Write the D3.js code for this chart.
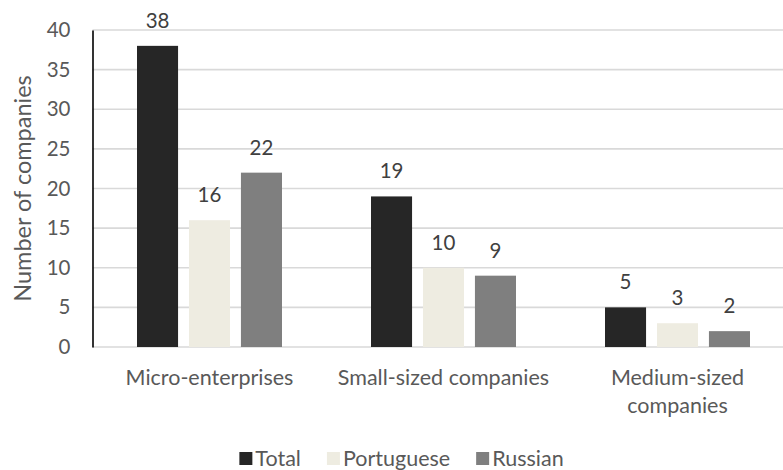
<!DOCTYPE html>
<html>
<head>
<meta charset="utf-8">
<script src="https://cdn.jsdelivr.net/npm/d3@7"></script>
<style>
  html, body { margin: 0; padding: 0; background: #fff; }
  svg { display: block; font-family: Lato, "Open Sans", sans-serif; }
</style>
</head>
<body>
<svg id="chart" width="783" height="470"></svg>
<script>
// Company counts by size class and nationality
const categories = ["Micro-enterprises", "Small-sized companies", "Medium-sized companies"];
const categoryLines = [["Micro-enterprises"], ["Small-sized companies"], ["Medium-sized", "companies"]];
const seriesNames = ["Total", "Portuguese", "Russian"];
const totalValues = [38, 19, 5];
const portugueseValues = [16, 10, 3];
const russianValues = [22, 9, 2];
const yTicks = [0, 5, 10, 15, 20, 25, 30, 35, 40];
const seriesColors = ["#262626", "#EEECE1", "#7F7F7F"];

const seriesValues = [totalValues, portugueseValues, russianValues];
const rows = categories.map((c, i) => ({
  category: c,
  values: seriesNames.map((s, j) => ({ series: s, value: seriesValues[j][i] }))
}));

const svg = d3.select("#chart");
const W = 783, H = 470;
const margin = { left: 92.5, top: 30, bottom: 123 };
const plotRight = 794.5;
const y0 = H - margin.bottom; // 347

const textColor = "#595959";
const labelSize = "21.5px";

const x0 = d3.scaleBand().domain(categories).range([margin.left, plotRight]);
const groupWidth = 145;
const x1 = d3.scaleBand().domain(seriesNames)
  .range([(x0.bandwidth() - groupWidth) / 2, (x0.bandwidth() + groupWidth) / 2])
  .paddingInner(0.21);
const y = d3.scaleLinear().domain([0, 40]).range([y0, margin.top]);
const color = d3.scaleOrdinal().domain(seriesNames).range(seriesColors);

// Horizontal gridlines
svg.append("g")
  .selectAll("line")
  .data(yTicks.filter(t => t > 0))
  .join("line")
  .attr("x1", margin.left).attr("x2", W)
  .attr("y1", d => y(d)).attr("y2", d => y(d))
  .attr("stroke", "#D9D9D9").attr("stroke-width", 1.6);

// Category axis baseline
svg.append("line")
  .attr("x1", margin.left).attr("x2", W)
  .attr("y1", y0).attr("y2", y0)
  .attr("stroke", "#D9D9D9").attr("stroke-width", 1.6);

// Value axis
const yAxis = d3.axisLeft(y).tickValues(yTicks).tickSize(0).tickPadding(22);
const yg = svg.append("g").attr("transform", `translate(${margin.left},0)`).call(yAxis);
yg.select(".domain").attr("stroke", "#000").attr("stroke-width", 1.6);
yg.selectAll("text")
  .attr("fill", textColor)
  .style("font-size", "20.5px")
  .style("font-family", "Lato, sans-serif");

// Bars
const groups = svg.append("g")
  .selectAll("g")
  .data(rows)
  .join("g")
  .attr("transform", d => `translate(${x0(d.category)},0)`);

groups.selectAll("rect")
  .data(d => d.values)
  .join("rect")
  .attr("x", d => x1(d.series))
  .attr("width", x1.bandwidth())
  .attr("y", d => y(d.value))
  .attr("height", d => y0 - y(d.value))
  .attr("fill", d => color(d.series));

// Value labels
groups.selectAll("text")
  .data(d => d.values)
  .join("text")
  .attr("x", d => x1(d.series) + x1.bandwidth() / 2)
  .attr("y", d => y(d.value) - 18)
  .attr("text-anchor", "middle")
  .attr("fill", "#404040")
  .style("font-size", "20.5px")
  .text(d => d.value);

// Category labels
svg.append("g")
  .selectAll("text")
  .data(categories)
  .join("text")
  .attr("x", d => x0(d) + x0.bandwidth() / 2)
  .attr("y", 385)
  .attr("text-anchor", "middle")
  .attr("fill", textColor)
  .style("font-size", labelSize)
  .each(function (d, i) {
    const t = d3.select(this);
    categoryLines[i].forEach((line, k) => {
      t.append("tspan")
        .attr("x", x0(d) + x0.bandwidth() / 2)
        .attr("dy", k === 0 ? 0 : 28)
        .text(line);
    });
  });

// Axis title
svg.append("text")
  .attr("transform", `translate(31,${(y0 + margin.top) / 2}) rotate(-90)`)
  .attr("text-anchor", "middle")
  .attr("fill", textColor)
  .style("font-size", "23.5px")
  .text("Number of companies");

// Legend
const legend = svg.append("g");
const items = legend.selectAll("g")
  .data(seriesNames)
  .join("g");
items.append("rect")
  .attr("width", 13).attr("height", 13)
  .attr("y", 452)
  .attr("fill", d => color(d));
items.append("text")
  .attr("x", 16)
  .attr("y", 466)
  .attr("fill", textColor)
  .style("font-size", labelSize)
  .text(d => d);
let cursor = 0;
const offsets = [];
items.each(function () {
  const w = d3.select(this).select("text").node().getComputedTextLength();
  offsets.push(cursor);
  cursor += 16 + w + 26;
});
const legendWidth = cursor - 26;
const legendLeft = 401.5 - legendWidth / 2;
items.attr("transform", (d, i) => `translate(${legendLeft + offsets[i]},0)`);
</script>
</body>
</html>
